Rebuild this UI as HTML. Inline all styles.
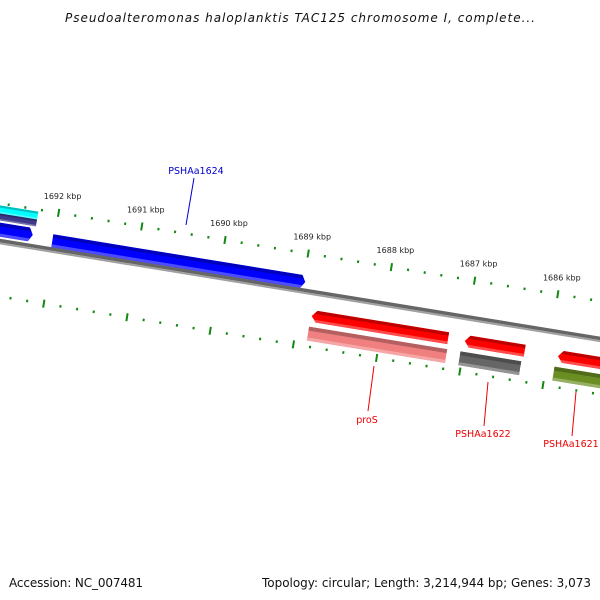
<!DOCTYPE html>
<html><head><meta charset="utf-8"><style>
html,body{margin:0;padding:0;background:#fff;width:600px;height:600px;overflow:hidden}
svg text{font-family:"DejaVu Sans","Liberation Sans",sans-serif}
</style></head><body>
<svg id="map" width="600" height="600" viewBox="0 0 600 600" xmlns="http://www.w3.org/2000/svg">
<text x="300" y="22" text-anchor="middle" font-size="12" font-style="italic" fill="#111" textLength="470">Pseudoalteromonas haloplanktis TAC125 chromosome I, complete...</text>
<g id="track" transform="translate(225,240) rotate(9.26)"></g>
<g id="labels"></g>
<text x="9" y="587" font-size="12" fill="#111" textLength="134">Accession: NC_007481</text>
<text x="262" y="587" font-size="12" fill="#111" textLength="329">Topology: circular; Length: 3,214,944 bp; Genes: 3,073</text>
</svg>
<script>
const tickKbp=[1693,1692,1691,1690,1689,1688,1687,1686,1685];
const geneNames=['left-blue','cyan','purple','PSHAa1624','proS','proS-cds','PSHAa1622','PSHAa1622-cds','PSHAa1621','PSHAa1621-cds'];
const geneStart=[1694,1694,1694,1692.02,1688.84,1688.85,1687.0,1687.03,1685.88,1685.9];
const geneEnd=[1692.26,1692.24,1692.24,1688.98,1687.2,1687.19,1686.28,1686.3,1684,1684];
const geneV1=[19,2,10,22,55,72,55,72,55,72];
const geneV2=[33,10,17,35,67,86,67,86,67,86];
const geneDir=[1,0,0,1,-1,0,-1,0,-1,0];
const geneColor=['#0000ff','#00ffff','#3d3a8a','#0000ff','#ff0000','#f08080','#ff0000','#666666','#ff0000','#6b8e23'];
const labelNames=['PSHAa1624','proS','PSHAa1622','PSHAa1621'];
const labelColor=['#0000cc','#ee0000','#ee0000','#ee0000'];
const labelPos=[[196,174,194,178,186,225],[367,423,374,366,368,411],[483,437,488,382,484,426],[571,447,576,392,572,436]];
const PX=84.3, OUTER=0, INNER=92, BACK=38;
const NS='http://www.w3.org/2000/svg';
const g=document.getElementById('track'), L=document.getElementById('labels');
const U=k=>(1690-k)*PX;
const th=9.26*Math.PI/180, c=Math.cos(th), s=Math.sin(th);
const toXY=(u,v)=>[225+u*c-v*s,240+u*s+v*c];
function mk(tag,at,par){const e=document.createElementNS(NS,tag);for(const k in at)e.setAttribute(k,at[k]);par.appendChild(e);return e;}
function shade(col,f){const n=parseInt(col.slice(1),16);let r=n>>16,gg=(n>>8)&255,b=n&255;
 if(f<0){r*=1+f;gg*=1+f;b*=1+f}else{r+=(255-r)*f;gg+=(255-gg)*f;b+=(255-b)*f}
 return 'rgb('+[r,gg,b].map(x=>Math.round(x)).join(',')+')';}
let bb=mk('rect',{x:-400,y:BACK-3,width:1200,height:3.5,fill:'#666'},g);

let bb2=mk('rect',{x:-400,y:BACK+0.5,width:1200,height:2,fill:'#a0a0a0'},g);

for(let k=tickKbp[0];k>=tickKbp[tickKbp.length-1]-0.001;k-=0.2){
 const kk=Math.round(k*10)/10, major=Math.abs(kk-Math.round(kk))<0.01, u=U(kk);
 [OUTER,INNER].forEach(v=>{
  const h=major?8:2.5;
  const t=mk('rect',{x:u-1,y:v-h/2,width:2,height:h,fill:'#118811'},g);
  
  
 });
}
tickKbp.forEach(k=>{const p=toXY(U(k),OUTER);
 const t=mk('text',{x:p[0]+4,y:p[1]-14,'font-size':'8','text-anchor':'middle',fill:'#222'},L);
 t.textContent=k+' kbp';
 });
geneNames.forEach((nm,i)=>{
 let u1=U(geneStart[i]),u2=U(geneEnd[i]);const v1=geneV1[i],v2=geneV2[i],h=v2-v1,col=geneColor[i],d=geneDir[i];
 const grp=mk('g',{},g);
 
 let pts;
 if(d===1) pts=[[u1,v1],[u2-4,v1],[u2,v1+h/2],[u2-4,v2],[u1,v2]];
 else if(d===-1) pts=[[u1,v1+h/2],[u1+5,v1],[u2,v1],[u2,v2],[u1+5,v2]];
 else pts=[[u1,v1],[u2,v1],[u2,v2],[u1,v2]];
 const ps=pts.map(p=>p.join(',')).join(' ');
 mk('polygon',{points:ps,fill:col},grp);
 mk('clipPath',{id:'cp'+i},grp).appendChild(document.createElementNS(NS,'polygon')).setAttribute('points',ps);
 mk('rect',{x:Math.min(u1,u2)-5,y:v1,width:Math.abs(u2-u1)+10,height:h*0.28,fill:shade(col,-0.25),'clip-path':'url(#cp'+i+')'},grp);
 mk('rect',{x:Math.min(u1,u2)-5,y:v2-h*0.22,width:Math.abs(u2-u1)+10,height:h*0.22,fill:shade(col,0.3),'clip-path':'url(#cp'+i+')'},grp);
});
labelNames.forEach((nm,i)=>{const p=labelPos[i];
 const ln=mk('line',{x1:p[2],y1:p[3],x2:p[4],y2:p[5],stroke:labelColor[i],'stroke-width':1},L);
 
 const t=mk('text',{x:p[0],y:p[1],'font-size':'9.5','text-anchor':'middle',fill:labelColor[i]},L);
 t.textContent=nm;
 });
</script>
</body></html>
